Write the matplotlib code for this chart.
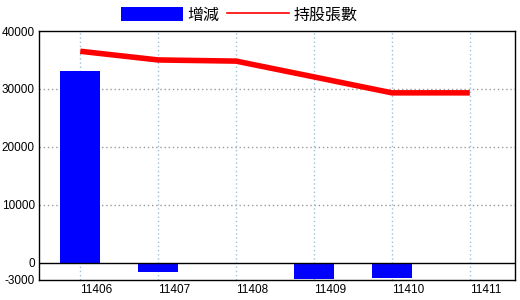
import matplotlib
matplotlib.use("Agg")
import matplotlib.pyplot as plt
import matplotlib.transforms as mtrans
from matplotlib.patches import Patch
from matplotlib.lines import Line2D

plt.rcParams['font.family'] = ['Liberation Sans', 'Noto Sans CJK TC', 'DejaVu Sans']

months = ['11406', '11407', '11408', '11409', '11410', '11411']
change = [33100, -1700, 0, -2760, -2700, 0]
holding = [36500, 35000, 34800, 32070, 29320, 29320]
yticks = [-3000, 0, 10000, 20000, 30000, 40000]

fig = plt.figure(figsize=(5.2, 3.0), dpi=100)
ax = fig.add_axes([39 / 520, 20 / 300, 476 / 520, 249 / 300])

x = list(range(len(months)))
ax.bar(x, change, width=0.51, color='#0000ff', zorder=3)
ax.plot(x, holding, color='#ff0000', linewidth=4, solid_capstyle='butt', zorder=4)

ax.set_xlim(-0.53, 5.58)
ax.set_ylim(-3000, 40000)
ax.set_yticks(yticks)
ax.set_yticklabels([str(v) for v in yticks])
ax.set_xticks(x)
ax.set_xticklabels(months)
ax.tick_params(axis='both', length=0, labelsize=8.5)
ax.tick_params(axis='y', pad=3)
ax.tick_params(axis='x', pad=3)

# x labels sit a bit right of the category lines
off = mtrans.ScaledTranslation(0.16, 0, fig.dpi_scale_trans)
for lbl in ax.get_xticklabels():
    lbl.set_transform(lbl.get_transform() + off)

for v in [10000, 20000, 30000]:
    ax.axhline(v, color='#999999', linestyle=(0, (1, 2)), linewidth=1, zorder=1)
for xi in x:
    ax.axvline(xi, color='#9cc2d8', linestyle=(0, (1, 2)), linewidth=1, zorder=1)
ax.axhline(0, color='black', linewidth=1, zorder=5)

for s in ax.spines.values():
    s.set_linewidth(1)
    s.set_color('black')

handles = [Patch(facecolor='#0000ff', edgecolor='none'),
           Line2D([0], [0], color='#ff0000', linewidth=1.2)]
fig.legend(handles, ['增減', '持股張數'], loc='center', bbox_to_anchor=(0.46, 0.95),
           ncol=2, frameon=False, handlelength=3.9, handleheight=0.9,
           handletextpad=0.25, columnspacing=0.5, borderpad=0,
           prop={'family': ['Noto Sans CJK TC'], 'size': 11.5})

fig.savefig('out.png', dpi=100)
